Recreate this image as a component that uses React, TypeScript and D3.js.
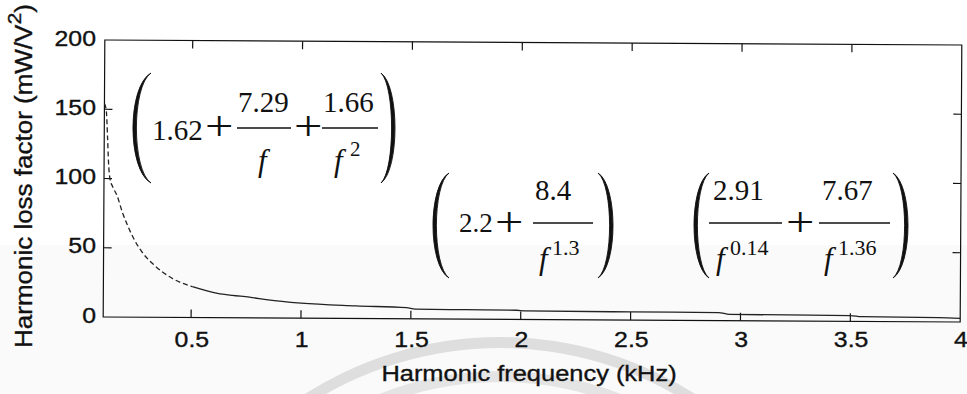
import React from "react";
import * as d3 from "d3";

const W = 967;
const H = 394;

// Harmonic loss factor curve (kHz, mW/V^2)
const freqKHz = [
  0.1, 0.108, 0.115, 0.12, 0.127, 0.14, 0.159, 0.186, 0.209, 0.241, 0.28, 0.332,
  0.414, 0.505, 0.62, 0.687, 0.765, 0.85, 1.0, 1.25, 1.48, 1.52, 1.75, 1.98, 2.02,
  2.5, 2.9, 2.95, 3.5, 3.55, 3.9, 4.0,
];
const lossFactor = [
  154, 150, 130, 112, 100, 94, 88, 75, 66, 55.5, 46, 37.5,
  28.1, 22.3, 17.6, 16.2, 15, 13, 10.8, 9.1, 8, 7, 6.8, 6.6, 6.2,
  5.9, 5.8, 4.5, 4.2, 3.4, 3.0, 2.6,
];
const xTicks = [0.5, 1, 1.5, 2, 2.5, 3, 3.5, 4];
const xTickLabels = ["0.5", "1", "1.5", "2", "2.5", "3", "3.5", "4"];
const yTicks = [0, 50, 100, 150, 200];
const yTickLabels = ["0", "50", "100", "150", "200"];
const xTitle = "Harmonic frequency (kHz)";
const yTitle = "Harmonic loss factor (mW/V";

const SANS = "'Liberation Sans', Arial, Helvetica, sans-serif";
const SERIF = "'Liberation Serif', 'Times New Roman', Times, serif";
const INK = "#111";

const x = d3.scaleLinear().domain([0.1, 4]).range([104, 961]);
const y = d3.scaleLinear().domain([0, 200]).range([319.5, 42.5]);

const pts: [number, number][] = freqKHz.map((f, i) => [f, lossFactor[i]]);
const line = d3
  .line<[number, number]>()
  .x((d) => x(d[0]))
  .y((d) => y(d[1]))
  .curve(d3.curveMonotoneX);

// tall bracket drawn as a crescent; ex is the x of the bulge
function paren(tx: number, ty: number, by: number, ex: number, thick: number) {
  const h = by - ty;
  const c = (ex - 0.25 * tx) / 0.75;
  const dir = ex < tx ? 1 : -1;
  const c2 = c + (dir * thick) / 0.75;
  return `M${tx},${ty} C${c},${ty + 0.12 * h} ${c},${by - 0.12 * h} ${tx},${by} C${c2},${by - 0.12 * h} ${c2},${ty + 0.12 * h} ${tx},${ty} Z`;
}

const Paren = ({ tx, ty, by, ex }: { tx: number; ty: number; by: number; ex: number }) => (
  <path d={paren(tx, ty, by, ex, 3.4)} fill={INK} stroke={INK} strokeWidth={0.9} strokeLinejoin="round" />
);

const Num = ({ x0, y0, t, size = 29 }: { x0: number; y0: number; t: string; size?: number }) => (
  <text x={x0} y={y0} fontFamily={SERIF} fontSize={size} fill={INK}>
    {t}
  </text>
);

const F = ({ x0, y0 }: { x0: number; y0: number }) => (
  <text x={x0} y={y0} fontFamily={SERIF} fontStyle="italic" fontSize={31} fill={INK}>
    f
  </text>
);

const Plus = ({ x0, y0 }: { x0: number; y0: number }) => (
  <text transform={`translate(${x0},${y0}) scale(1.2,1)`} fontFamily={SERIF} fontSize={42} fill={INK}>
    +
  </text>
);

const Bar = ({ x1, x2, yb }: { x1: number; x2: number; yb: number }) => (
  <line x1={x1} x2={x2} y1={yb} y2={yb} stroke={INK} strokeWidth={1.5} />
);

export default function App() {
  const steep = pts.filter((d) => d[0] <= 0.505);
  const tail = pts.filter((d) => d[0] >= 0.505);
  const tickLen = 8;
  const sansInk = { fill: INK, stroke: INK, strokeWidth: 0.35 };

  return (
    <svg
      width={W}
      height={H}
      viewBox={`0 0 ${W} ${H}`}
      style={{ position: "absolute", left: 0, top: 0, background: "#fff" }}
    >
      {/* paper tone and faint seal arcs */}
      <rect x={0} y={245} width={W} height={H - 245} fill="#fafafa" />
      <path
        d={d3.arc()({ innerRadius: 352, outerRadius: 363, startAngle: -0.6, endAngle: 0.6 }) || ""}
        transform="translate(500,700)"
        fill="#dedede"
      />
      <path
        d={d3.arc()({ innerRadius: 318, outerRadius: 329, startAngle: -0.4, endAngle: 0.4 }) || ""}
        transform="translate(500,700)"
        fill="#e4e4e4"
      />

      {/* plot frame, ticks and curve (frame sits at a slight clockwise tilt) */}
      <g transform="rotate(0.334, 532, 181)">
        <rect
          x={x(0.1)}
          y={y(200)}
          width={x(4) - x(0.1)}
          height={y(0) - y(200)}
          fill="none"
          stroke={INK}
          strokeWidth={1.2}
        />
        {xTicks
          .filter((t) => t < 4)
          .map((t) => (
            <g key={`xt${t}`}>
              <line x1={x(t)} x2={x(t)} y1={y(0)} y2={y(0) - tickLen} stroke={INK} strokeWidth={1.2} />
              <line x1={x(t)} x2={x(t)} y1={y(200)} y2={y(200) + tickLen} stroke={INK} strokeWidth={1.2} />
            </g>
          ))}
        {yTicks
          .filter((t) => t > 0 && t < 200)
          .map((t) => (
            <g key={`yt${t}`}>
              <line x1={x(0.1)} x2={x(0.1) + tickLen} y1={y(t)} y2={y(t)} stroke={INK} strokeWidth={1.2} />
              <line x1={x(4)} x2={x(4) - tickLen} y1={y(t)} y2={y(t)} stroke={INK} strokeWidth={1.2} />
            </g>
          ))}
        <path d={line(steep) || ""} fill="none" stroke="#222" strokeWidth={1.3} strokeDasharray="5 3" />
        <path d={line(tail) || ""} fill="none" stroke="#222" strokeWidth={1.3} />
      </g>

      {/* tick labels */}
      {xTicks.map((t, i) => (
        <text
          key={`xl${t}`}
          transform={`translate(${x(t)},347) scale(1.13,1)`}
          textAnchor="middle"
          fontFamily={SANS}
          fontSize={22}
          {...sansInk}
        >
          {xTickLabels[i]}
        </text>
      ))}
      {yTicks.map((t, i) => (
        <text
          key={`yl${t}`}
          transform={`translate(96,${y(t) + 3}) scale(1.13,1)`}
          textAnchor="end"
          fontFamily={SANS}
          fontSize={22}
          {...sansInk}
        >
          {yTickLabels[i]}
        </text>
      ))}

      {/* axis titles */}
      <text
        transform="translate(529,381) scale(1.13,1)"
        textAnchor="middle"
        fontFamily={SANS}
        fontSize={22.5}
        {...sansInk}
      >
        {xTitle}
      </text>
      <text
        transform="translate(32,176) rotate(-90) scale(1.13,1)"
        textAnchor="middle"
        fontFamily={SANS}
        fontSize={23}
        {...sansInk}
      >
        {yTitle}
        <tspan fontSize={19} dy={-11}>
          2
        </tspan>
        <tspan dy={11}>)</tspan>
      </text>

      {/* loss-factor expressions for each frequency band */}
      <g>
        <Paren tx={151} ty={73} by={183} ex={133} />
        <Num x0={152} y0={140} t="1.62" />
        <Plus x0={205} y0={140} />
        <Num x0={238} y0={112} t="7.29" />
        <Bar x1={237} x2={291} yb={128} />
        <F x0={258} y0={171} />
        <Plus x0={294} y0={140} />
        <Num x0={323} y0={112} t="1.66" />
        <Bar x1={322} x2={378} yb={128} />
        <F x0={334} y0={171} />
        <Num x0={350} y0={156} t="2" size={21} />
        <Paren tx={381} ty={73} by={183} ex={395} />
      </g>
      <g>
        <Paren tx={449} ty={173} by={278} ex={433} />
        <Num x0={459} y0={232} t="2.2" size={27} />
        <Plus x0={495} y0={236} />
        <Num x0={535} y0={200} t="8.4" />
        <Bar x1={533} x2={593} yb={223} />
        <F x0={539} y0={269} />
        <Num x0={552} y0={255} t="1.3" size={22} />
        <Paren tx={598} ty={173} by={278} ex={613} />
      </g>
      <g>
        <Paren tx={709} ty={173} by={278} ex={694} />
        <Num x0={713} y0={200} t="2.91" />
        <Bar x1={709} x2={782} yb={223} />
        <F x0={716} y0={269} />
        <Num x0={730} y0={255} t="0.14" size={22} />
        <Plus x0={786} y0={236} />
        <Num x0={822} y0={200} t="7.67" />
        <Bar x1={819} x2={890} yb={223} />
        <F x0={824} y0={269} />
        <Num x0={838} y0={255} t="1.36" size={22} />
        <Paren tx={893} ty={173} by={278} ex={908} />
      </g>
    </svg>
  );
}
